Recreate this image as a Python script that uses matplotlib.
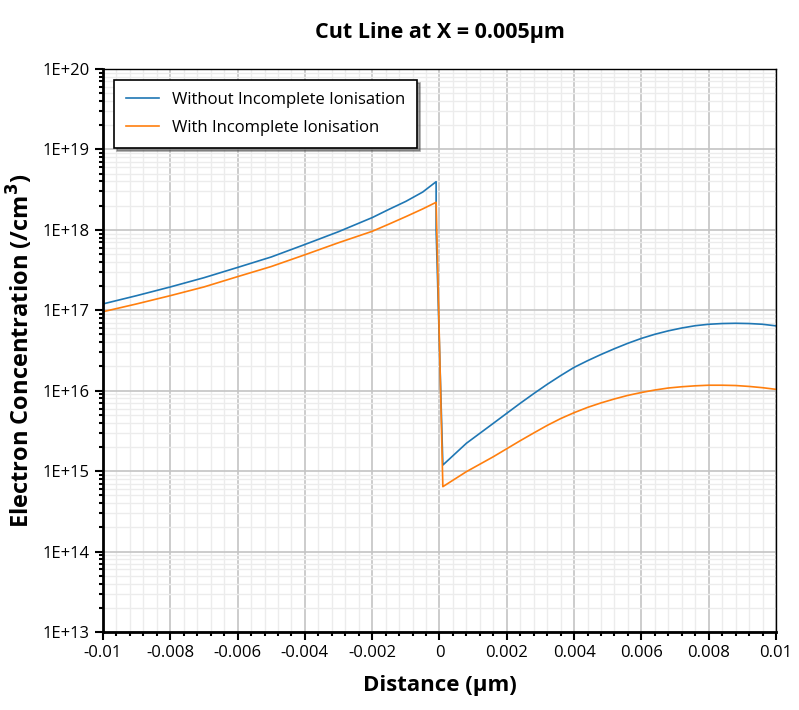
import matplotlib.pyplot as plt
import numpy as np
from matplotlib.ticker import LogLocator, MultipleLocator, FuncFormatter

plt.rcParams['font.family'] = ['Open Sans', 'DejaVu Sans']

# distance (um) and electron concentration (/cm^3)
x_left = [-0.01, -0.009, -0.008, -0.007, -0.006, -0.005, -0.004, -0.003, -0.002, -0.0015, -0.001, -0.0005, -0.0001]
blue_left = [1.20e17, 1.52e17, 1.95e17, 2.54e17, 3.41e17, 4.60e17, 6.58e17, 9.49e17, 1.42e18, 1.80e18, 2.26e18, 2.95e18, 3.97e18]
orange_left = [9.6e16, 1.20e17, 1.52e17, 1.95e17, 2.62e17, 3.50e17, 4.90e17, 6.92e17, 9.59e17, 1.18e18, 1.46e18, 1.82e18, 2.20e18]

x_right = [0.0001, 0.0008, 0.0016, 0.002, 0.0024, 0.0028, 0.0032, 0.0036, 0.004, 0.0044, 0.0048, 0.0052,
           0.0056, 0.006, 0.0064, 0.0068, 0.0072, 0.0076, 0.008, 0.0084, 0.0088, 0.0092, 0.0096, 0.01]
blue_right = [1.19e15, 2.22e15, 3.93e15, 5.24e15, 6.98e15, 9.2e15, 1.2e16, 1.54e16, 1.95e16, 2.36e16, 2.82e16, 3.33e16,
              3.89e16, 4.47e16, 5.03e16, 5.55e16, 6.02e16, 6.43e16, 6.70e16, 6.84e16, 6.89e16, 6.84e16, 6.70e16, 6.40e16]
orange_right = [6.41e14, 9.85e14, 1.51e15, 1.90e15, 2.39e15, 2.98e15, 3.70e15, 4.50e15, 5.33e15, 6.20e15, 7.05e15, 7.90e15,
                8.75e15, 9.50e15, 1.02e16, 1.08e16, 1.12e16, 1.15e16, 1.17e16, 1.17e16, 1.16e16, 1.13e16, 1.09e16, 1.04e16]

# blue drops straight down at the junction before crossing over
x_blue = x_left + [-0.0001] + x_right
y_blue = blue_left + [1.0e18] + blue_right
x_orange = x_left + x_right
y_orange = orange_left + orange_right

fig = plt.figure(figsize=(7.99, 7.10), dpi=100)
ax = fig.add_axes([0.1289, 0.1099, 0.8423, 0.7929])

ax.plot(x_blue, y_blue, color='#1f77b4', lw=1.2, label='Without Incomplete Ionisation')
ax.plot(x_orange, y_orange, color='#ff7f0e', lw=1.2, label='With Incomplete Ionisation')

ax.set_yscale('log')
ax.set_xlim(-0.01, 0.01)
ax.set_ylim(1e13, 1e20)

ax.xaxis.set_major_locator(MultipleLocator(0.002))
ax.xaxis.set_minor_locator(MultipleLocator(0.0004))
ax.xaxis.set_major_formatter(FuncFormatter(lambda v, p: '0' if abs(v) < 1e-9 else ('%g' % v)))
ax.yaxis.set_major_locator(LogLocator(base=10, numticks=20))
ax.yaxis.set_minor_locator(LogLocator(base=10, subs=np.arange(2, 10), numticks=20))
ax.yaxis.set_major_formatter(FuncFormatter(lambda v, p: '1E+%d' % round(np.log10(v))))
ax.xaxis.get_offset_text().set_visible(False)
ax.yaxis.get_offset_text().set_visible(False)

ax.grid(True, which='major', color='#c4c4c4', lw=1.2)
ax.grid(True, which='minor', color='#ececec', lw=1.0)
ax.set_axisbelow(True)

ax.tick_params(which='major', direction='out', length=6, width=1.5, labelsize=12, colors='black')
ax.tick_params(which='minor', direction='out', length=3, width=1.5)

for s in ['left', 'bottom']:
    ax.spines[s].set_linewidth(2)
for s in ['top', 'right']:
    ax.spines[s].set_linewidth(1)

ax.set_title('Cut Line at X = 0.005μm', fontsize=15.5, fontweight='bold', pad=22)
ax.set_xlabel('Distance (μm)', fontsize=16, fontweight='bold', labelpad=10)
ax.set_ylabel('Electron Concentration (/cm$^\\mathbf{3}$)', fontsize=17, fontweight='bold', labelpad=5)

leg = ax.legend(loc='upper left', fontsize=12, frameon=True, fancybox=False, shadow=True,
                borderpad=0.7, labelspacing=0.75, handlelength=2.0, bbox_to_anchor=(0.004, 0.995))
leg.get_frame().set_edgecolor('black')
leg.get_frame().set_linewidth(1.2)
leg.get_frame().set_alpha(1)

fig.savefig('out.png', dpi=100)
